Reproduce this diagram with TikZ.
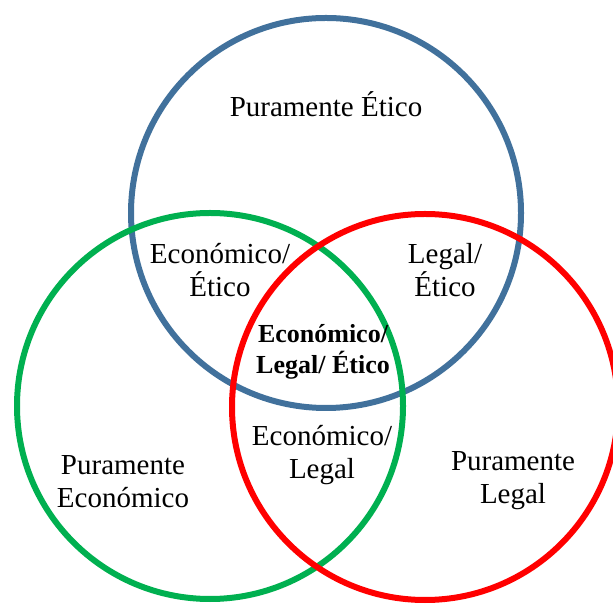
\documentclass[tikz,border=0pt]{standalone}
\usepackage{fontspec}
\setmainfont{Liberation Serif}
\definecolor{etico}{RGB}{65,113,156}
\definecolor{economico}{RGB}{0,176,80}
\definecolor{legal}{RGB}{255,0,0}
\tikzset{
  area/.style={circle, draw, line width=3pt, minimum size=#1, inner sep=0pt},
  txt/.style={align=center, font=\fontsize{14.5}{16.5}\selectfont},
  txtb/.style={align=center, font=\fontsize{13}{15.5}\selectfont\bfseries}
}
\begin{document}
\begin{tikzpicture}[x=0.5pt,y=0.5pt]
            \useasboundingbox (0,0) rectangle (613,603);
            \clip (0,0) rectangle (613,603);
            \node[area=195pt, etico] (ceti) at (326,390) {};
            \node[area=193pt, economico] (ceco) at (210,197) {};
            \node[area=193pt, legal] (cleg) at (425,196) {};

            \node[txt] (peti) at (326,499) {Puramente Ético};
            \node[txt] (ecoeti) at (220,333) {Económico/\\Ético};
            \node[txt] (legeti) at (445,333) {Legal/\\Ético};
            \node[txtb] (todos) at (323,251) {Económico/\\Legal/ Ético};
            \node[txt] (ecoleg) at (322,148) {Económico/\\Legal};
            \node[txt] (peco) at (123,121) {Puramente\\Económico};
            \node[txt] (pleg) at (513,122) {Puramente\\Legal};
        \end{tikzpicture}
\end{document}
